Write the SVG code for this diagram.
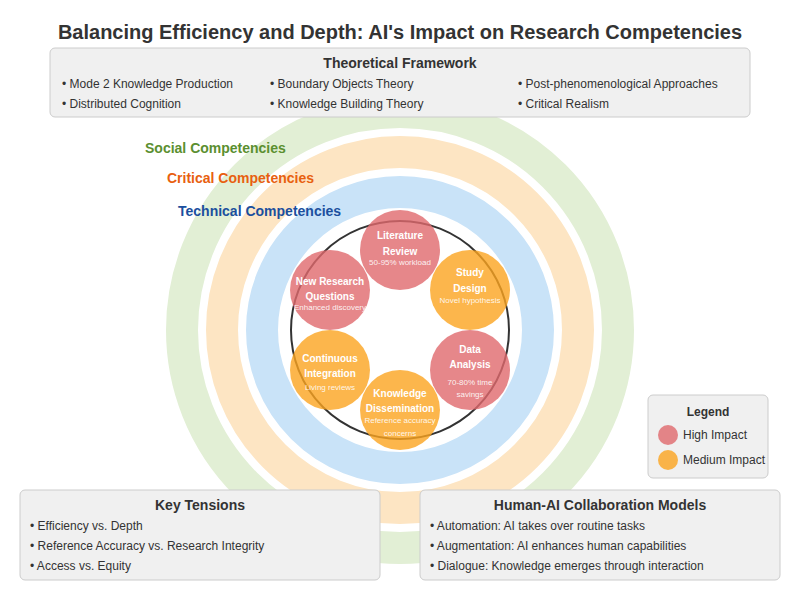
<svg xmlns="http://www.w3.org/2000/svg" width="800" height="600" viewBox="0 0 800 600">
<style>
text{font-family:"Liberation Sans",Arial,Helvetica,sans-serif;}
.title{font-size:20px;font-weight:bold;fill:#333;}
.box{fill:#f0f0f0;stroke:#cccccc;stroke-width:1;}
.bh{font-size:14px;font-weight:bold;fill:#333;text-anchor:middle;}
.item{font-size:12px;fill:#333;}
.ring{fill:none;stroke-width:32;}
.high{fill:#e0696d;fill-opacity:0.8;}
.med{fill:#fba41f;fill-opacity:0.8;}
.nt{font-size:10px;font-weight:bold;fill:#fff;text-anchor:middle;}
.ns{font-size:8px;fill:#fff;fill-opacity:0.9;text-anchor:middle;}
.comp{font-size:14px;font-weight:bold;}
</style>
<rect width="800" height="600" fill="#ffffff"/>
<g id="rings">
<circle class="ring" cx="400" cy="330" r="218" stroke="#e2efd5"/>
<circle class="ring" cx="400" cy="330" r="178" stroke="#fde5c3"/>
<circle class="ring" cx="400" cy="330" r="138" stroke="#c9e3f8"/>
</g>
<g id="connectors">
<circle cx="400" cy="330" r="109" fill="none" stroke="#333" stroke-width="2"/>
</g>
<g id="competency-labels">
<text class="comp" x="145" y="153" fill="#5b8f30">Social Competencies</text>
<text class="comp" x="167" y="183" fill="#e8600f">Critical Competencies</text>
<text class="comp" x="178" y="215.5" fill="#1b4f9e">Technical Competencies</text>
</g>
<g id="node-literature-review">
<circle class="high" cx="400" cy="250" r="40"/>
<text class="nt" x="400" y="239.2">Literature</text>
<text class="nt" x="400" y="254.5">Review</text>
<text class="ns" x="400" y="265">50-95% workload</text>
</g>
<g id="node-study-design">
<circle class="med" cx="470" cy="290" r="40"/>
<text class="nt" x="470" y="275.8">Study</text>
<text class="nt" x="470" y="291.5">Design</text>
<text class="ns" x="470" y="303">Novel hypothesis</text>
</g>
<g id="node-data-analysis">
<circle class="high" cx="470" cy="370" r="40"/>
<text class="nt" x="470" y="352.5">Data</text>
<text class="nt" x="470" y="367.8">Analysis</text>
<text class="ns" x="470" y="384.7">70-80% time</text>
<text class="ns" x="470" y="397">savings</text>
</g>
<g id="node-knowledge-dissemination">
<circle class="med" cx="400" cy="410" r="40"/>
<text class="nt" x="400" y="396.8">Knowledge</text>
<text class="nt" x="400" y="412.2">Dissemination</text>
<text class="ns" x="400" y="423.3">Reference accuracy</text>
<text class="ns" x="400" y="436.3">concerns</text>
</g>
<g id="node-continuous-integration">
<circle class="med" cx="330" cy="370" r="40"/>
<text class="nt" x="330" y="361.8">Continuous</text>
<text class="nt" x="330" y="376.8">Integration</text>
<text class="ns" x="330" y="390.3">Living reviews</text>
</g>
<g id="node-new-research-questions">
<circle class="high" cx="330" cy="290" r="40"/>
<text class="nt" x="330" y="284.5">New Research</text>
<text class="nt" x="330" y="299.5">Questions</text>
<text class="ns" x="330" y="310.3">Enhanced discovery</text>
</g>
<text class="title" x="400" y="39" text-anchor="middle">Balancing Efficiency and Depth: AI's Impact on Research Competencies</text>
<g id="theoretical-framework">
<rect class="box" x="50" y="48" width="700" height="69" rx="5"/>
<text class="bh" x="400" y="68">Theoretical Framework</text>
<text class="item" x="62" y="88">• Mode 2 Knowledge Production</text>
<text class="item" x="62" y="108">• Distributed Cognition</text>
<text class="item" x="270" y="88">• Boundary Objects Theory</text>
<text class="item" x="270" y="108">• Knowledge Building Theory</text>
<text class="item" x="518" y="88">• Post-phenomenological Approaches</text>
<text class="item" x="518" y="108">• Critical Realism</text>
</g>
<g id="legend">
<rect class="box" x="648" y="395" width="120" height="83" rx="5"/>
<text x="708" y="415.5" text-anchor="middle" style="font-size:12px;font-weight:bold;fill:#333">Legend</text>
<circle class="high" cx="668" cy="435" r="10"/>
<text class="item" x="683" y="439">High Impact</text>
<circle class="med" cx="668" cy="460" r="10"/>
<text class="item" x="683" y="464">Medium Impact</text>
</g>
<g id="key-tensions">
<rect class="box" x="20" y="490" width="360" height="90" rx="5"/>
<text class="bh" x="200" y="510">Key Tensions</text>
<text class="item" x="30" y="530">• Efficiency vs. Depth</text>
<text class="item" x="30" y="550">• Reference Accuracy vs. Research Integrity</text>
<text class="item" x="30" y="570">• Access vs. Equity</text>
</g>
<g id="collaboration-models">
<rect class="box" x="420" y="490" width="360" height="90" rx="5"/>
<text class="bh" x="600" y="510">Human-AI Collaboration Models</text>
<text class="item" x="430" y="530">• Automation: AI takes over routine tasks</text>
<text class="item" x="430" y="550">• Augmentation: AI enhances human capabilities</text>
<text class="item" x="430" y="570">• Dialogue: Knowledge emerges through interaction</text>
</g>
</svg>
